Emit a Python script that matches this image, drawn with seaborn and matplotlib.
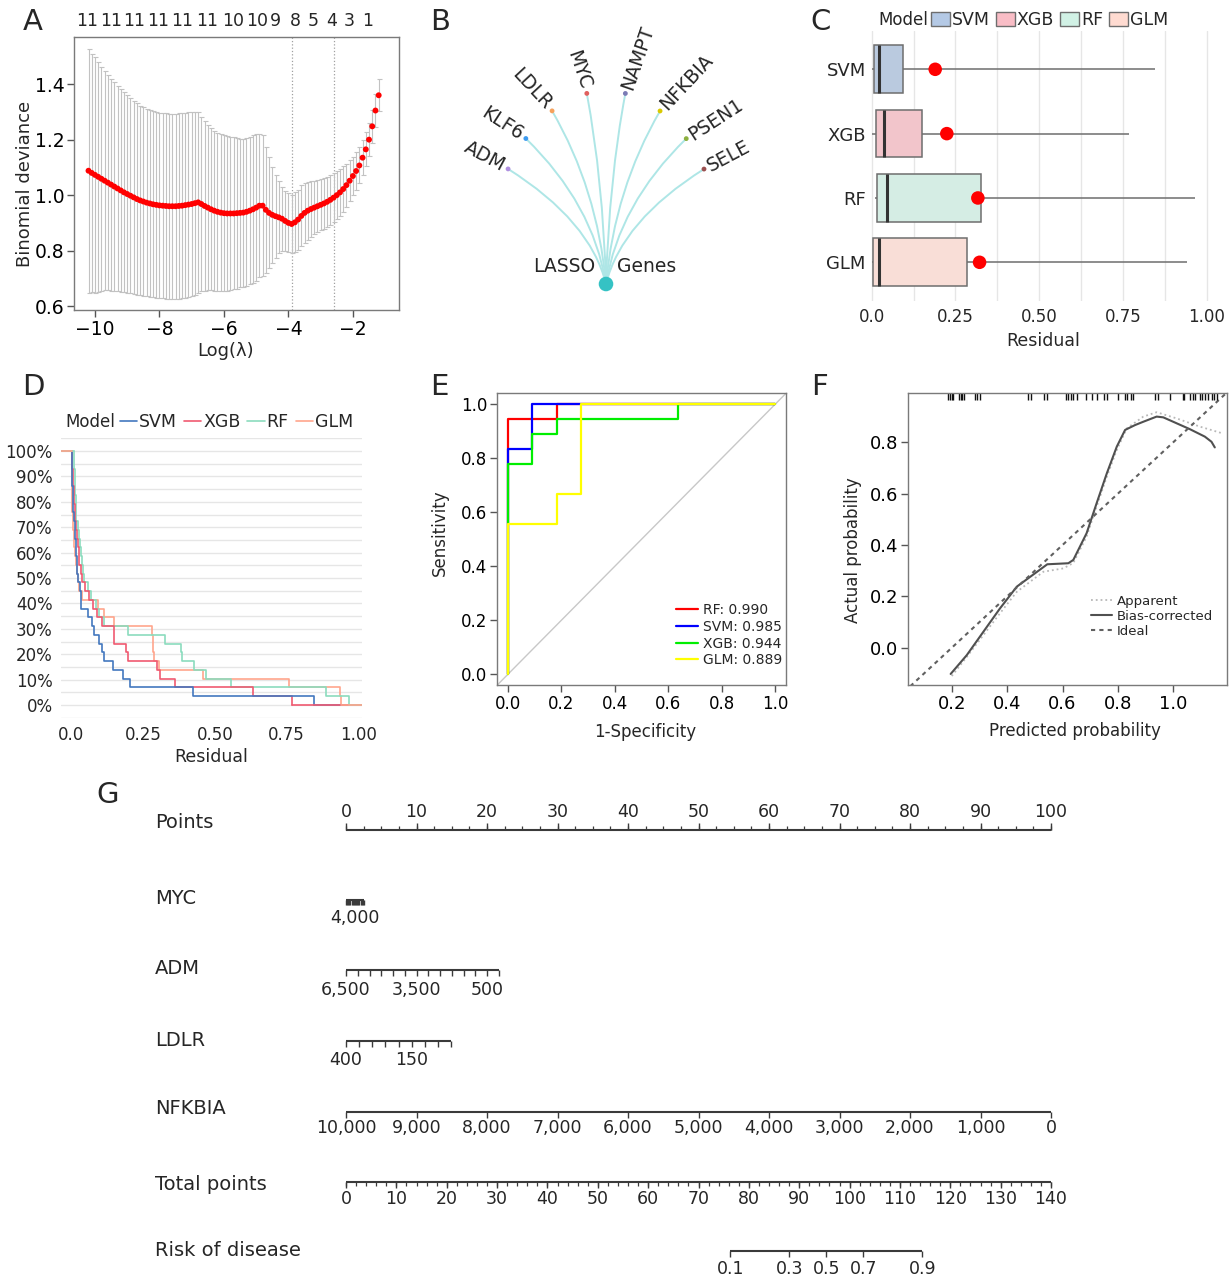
import numpy as np
import pandas as pd
import matplotlib
matplotlib.use("Agg")
import matplotlib.pyplot as plt
import matplotlib.transforms as mtransforms
import matplotlib.ticker as mticker
from matplotlib.path import Path
from matplotlib.patches import PathPatch, Patch
from matplotlib.lines import Line2D
import seaborn as sns

# ======================= DATA =======================
# Panel A: LASSO cross-validation
log_lambda = [-10.2, -10.1, -10.0, -9.9, -9.8, -9.7, -9.6, -9.5, -9.4, -9.3, -9.2, -9.1, -9.0,
              -8.9, -8.8, -8.7, -8.6, -8.5, -8.4, -8.3, -8.2, -8.1, -8.0, -7.9, -7.8, -7.7,
              -7.6, -7.5, -7.4, -7.3, -7.2, -7.1, -7.0, -6.9, -6.8, -6.7, -6.6, -6.5, -6.4,
              -6.3, -6.2, -6.1, -6.0, -5.9, -5.8, -5.7, -5.6, -5.5, -5.4, -5.3, -5.2, -5.1,
              -5.0, -4.9, -4.8, -4.7, -4.6, -4.5, -4.4, -4.3, -4.2, -4.1, -4.0, -3.9, -3.8,
              -3.7, -3.6, -3.5, -3.4, -3.3, -3.2, -3.1, -3.0, -2.9, -2.8, -2.7, -2.6, -2.5,
              -2.4, -2.3, -2.2, -2.1, -2.0, -1.9, -1.8, -1.7, -1.6, -1.5, -1.4, -1.3, -1.2]
cv_mean = [1.088, 1.080, 1.073, 1.066, 1.059, 1.052, 1.045, 1.038, 1.031, 1.024, 1.017, 1.010, 1.004,
           0.998, 0.992, 0.986, 0.981, 0.977, 0.973, 0.970, 0.967, 0.965, 0.963, 0.962, 0.961, 0.960,
           0.960, 0.960, 0.961, 0.962, 0.964, 0.966, 0.968, 0.971, 0.974, 0.968, 0.961, 0.955, 0.949,
           0.944, 0.940, 0.937, 0.935, 0.934, 0.934, 0.934, 0.935, 0.936, 0.937, 0.940, 0.944, 0.949,
           0.955, 0.962, 0.962, 0.947, 0.936, 0.929, 0.924, 0.920, 0.915, 0.907, 0.900, 0.896, 0.902,
           0.912, 0.925, 0.936, 0.944, 0.950, 0.955, 0.960, 0.965, 0.970, 0.976, 0.983, 0.991, 1.000,
           1.010, 1.022, 1.036, 1.052, 1.069, 1.087, 1.107, 1.135, 1.165, 1.200, 1.248, 1.305, 1.360]
cv_se = [0.440, 0.430, 0.424, 0.414, 0.404, 0.395, 0.388, 0.382, 0.376, 0.370, 0.365, 0.360, 0.356,
         0.352, 0.348, 0.345, 0.342, 0.339, 0.337, 0.336, 0.335, 0.334, 0.334, 0.334, 0.334, 0.334,
         0.334, 0.334, 0.334, 0.333, 0.333, 0.333, 0.332, 0.330, 0.326, 0.315, 0.305, 0.297, 0.292,
         0.288, 0.285, 0.282, 0.281, 0.278, 0.276, 0.274, 0.272, 0.268, 0.267, 0.266, 0.266, 0.266,
         0.266, 0.258, 0.254, 0.227, 0.200, 0.173, 0.150, 0.130, 0.115, 0.108, 0.106, 0.106, 0.108,
         0.108, 0.110, 0.108, 0.105, 0.100, 0.096, 0.093, 0.092, 0.091, 0.090, 0.090, 0.089, 0.087,
         0.085, 0.082, 0.078, 0.074, 0.070, 0.067, 0.065, 0.063, 0.061, 0.060, 0.059, 0.058, 0.057]
nzero_pos = [-10.25, -9.5, -8.79, -8.05, -7.3, -6.53, -5.72, -4.98, -4.39, -3.77, -3.24, -2.65, -2.12, -1.53]
nzero_lab = ["11", "11", "11", "11", "11", "11", "10", "10", "9", "8", "5", "4", "3", "1"]
lambda_min_log = -3.88
lambda_1se_log = -2.59

# Panel B: LASSO genes
genes = ["ADM", "KLF6", "LDLR", "MYC", "NAMPT", "NFKBIA", "PSEN1", "SELE"]
gene_colors = ["#b08fe0", "#3d9bf0", "#f5a25d", "#e0605e", "#7b7bb5", "#d9c900", "#8db040", "#9b5050"]

# Panels C/D: absolute residuals per model
models = ["SVM", "XGB", "RF", "GLM"]
svm_res = [0.846, 0.422, 0.204, 0.181, 0.146, 0.115, 0.106, 0.095, 0.079, 0.071, 0.059, 0.035, 0.033,
           0.030, 0.022, 0.020, 0.018, 0.016, 0.015, 0.014, 0.012, 0.008, 0.007, 0.006, 0.005, 0.004,
           0.003, 0.002, 0.001]
xgb_res = [0.767, 0.634, 0.361, 0.309, 0.297, 0.196, 0.190, 0.150, 0.147, 0.106, 0.090, 0.075, 0.060,
           0.048, 0.037, 0.032, 0.028, 0.025, 0.022, 0.019, 0.016, 0.013, 0.012, 0.010, 0.008, 0.006,
           0.005, 0.003, 0.002]
rf_res = [0.966, 0.886, 0.555, 0.468, 0.427, 0.386, 0.382, 0.325, 0.198, 0.112, 0.095, 0.085, 0.070,
          0.058, 0.045, 0.042, 0.038, 0.034, 0.030, 0.027, 0.024, 0.017, 0.016, 0.015, 0.014, 0.013,
          0.012, 0.011, 0.010]
glm_res = [0.940, 0.936, 0.758, 0.457, 0.306, 0.287, 0.285, 0.284, 0.282, 0.150, 0.115, 0.094, 0.036,
           0.028, 0.022, 0.018, 0.015, 0.013, 0.011, 0.009, 0.007, 0.005, 0.004, 0.004, 0.003, 0.003,
           0.002, 0.002, 0.001]
model_colors = ["#4378bf", "#f05a71", "#8bdcbe", "#ffa58c"]
model_fill = ["#b4c9e5", "#f9bdc6", "#d1f1e5", "#ffdbd1"]

# Panel E: ROC curves
roc_names = ["RF", "SVM", "XGB", "GLM"]
roc_auc = [0.990, 0.985, 0.944, 0.889]
roc_colors = ["#ff0000", "#0000ff", "#00ee00", "#ffff00"]
rf_fpr = [0, 0, 0.182, 0.182, 1.0]
rf_tpr = [0, 0.944, 0.944, 1.0, 1.0]
svm_fpr = [0, 0, 0.091, 0.091, 1.0]
svm_tpr = [0, 0.833, 0.833, 1.0, 1.0]
xgb_fpr = [0, 0, 0.091, 0.091, 0.182, 0.182, 0.636, 0.636, 1.0]
xgb_tpr = [0, 0.778, 0.778, 0.889, 0.889, 0.944, 0.944, 1.0, 1.0]
glm_fpr = [0, 0, 0.182, 0.182, 0.273, 0.273, 1.0]
glm_tpr = [0, 0.556, 0.556, 0.667, 0.667, 1.0, 1.0]

# Panel F: calibration
apparent_x = [0.200, 0.254, 0.314, 0.374, 0.435, 0.531, 0.603, 0.639, 0.687, 0.723, 0.760, 0.796,
              0.832, 0.892, 0.940, 1.012, 1.096, 1.180]
apparent_y = [-0.110, -0.036, 0.049, 0.134, 0.218, 0.296, 0.309, 0.330, 0.433, 0.549, 0.666, 0.770,
              0.854, 0.900, 0.917, 0.893, 0.861, 0.834]
bias_x = [0.196, 0.254, 0.314, 0.374, 0.435, 0.545, 0.621, 0.639, 0.687, 0.723, 0.760, 0.796, 0.826,
          0.862, 0.892, 0.940, 0.964, 1.012, 1.060, 1.114, 1.138, 1.150]
bias_y = [-0.102, -0.029, 0.062, 0.153, 0.238, 0.325, 0.329, 0.342, 0.446, 0.562, 0.679, 0.783, 0.848,
          0.867, 0.880, 0.900, 0.897, 0.874, 0.851, 0.822, 0.802, 0.780]
ideal_x = [0.05, 1.19]
ideal_y = [-0.15, 0.99]
rug_x = [0.188, 0.194, 0.200, 0.206, 0.227, 0.232, 0.238, 0.244, 0.284, 0.292, 0.302, 0.477, 0.486,
         0.533, 0.543, 0.612, 0.621, 0.630, 0.639, 0.651, 0.684, 0.705, 0.723, 0.750, 0.760, 0.801,
         0.826, 0.834, 0.846, 0.856, 0.934, 0.946, 0.988, 1.034, 1.040, 1.060, 1.070, 1.078, 1.096,
         1.105, 1.114, 1.126, 1.139, 1.148, 1.157]

# Panel G: nomogram
points_ticks = [0, 10, 20, 30, 40, 50, 60, 70, 80, 90, 100]
myc_ticks = [8000, 7500, 7000, 6500, 6000, 5500, 5000, 4500, 4000, 3500, 3000, 2500, 2000, 1500, 1000, 500, 0]
myc_labels = [4000]
myc_max_pts = 2.55
adm_ticks = [6500, 6000, 5500, 5000, 4500, 4000, 3500, 3000, 2500, 2000, 1500, 1000, 500, 0]
adm_labels = [6500, 3500, 500]
adm_max_pts = 21.7
ldlr_ticks = [400, 350, 300, 250, 200, 150, 100, 50, 0]
ldlr_labels = [400, 150]
ldlr_max_pts = 14.9
nfkbia_ticks = [10000, 9000, 8000, 7000, 6000, 5000, 4000, 3000, 2000, 1000, 0]
nfkbia_max_pts = 100.0
total_ticks = [0, 10, 20, 30, 40, 50, 60, 70, 80, 90, 100, 110, 120, 130, 140]
total_max = 140.0
risk_ticks = [0.1, 0.3, 0.5, 0.7, 0.9]
risk_intercept = -11.0
risk_slope = 0.1153

# ======================= FIGURE =======================
W, H = 1229, 1280
sns.set_theme(style="white")
plt.rcParams['font.family'] = ['DejaVu Sans']
plt.rcParams['axes.unicode_minus'] = True
fig = plt.figure(figsize=(W / 100, H / 100), dpi=100)
PXT = mtransforms.Affine2D().scale(1.0 / W, -1.0 / H).translate(0, 1) + fig.transFigure


def px_axes(l, t, r, b):
    return fig.add_axes([l / W, 1 - b / H, (r - l) / W, (b - t) / H])


def ftext(x, y, s, **kw):
    return fig.text(x, y, s, transform=PXT, **kw)


def r_style(ax, labelsize=12.5):
    for s in ax.spines.values():
        s.set_visible(True)
        s.set_color('#7a7a7a')
        s.set_linewidth(1.0)
    ax.tick_params(direction='out', length=5, width=1, color='#555555', labelcolor='black',
                   labelsize=labelsize, pad=2, bottom=True, left=True, top=False, right=False)
    ax.grid(False)


def set_labels(ax, xlabel=None, xpos=None, ylabel=None, ypos=None, size=12.5):
    if xlabel is not None:
        ax.set_xlabel(xlabel, fontsize=size, va='center', ha='center')
        ax.xaxis.set_label_coords(xpos[0], xpos[1], transform=PXT)
    else:
        ax.set_xlabel('')
    if ylabel is not None:
        ax.set_ylabel(ylabel, fontsize=size, va='center', ha='center')
        ax.yaxis.set_label_coords(ypos[0], ypos[1], transform=PXT)
    else:
        ax.set_ylabel('')


# panel letters
for letter, (x, y) in zip("ABCDEFG", [(33, 22), (440, 22), (821, 22), (33, 387), (439, 387), (820, 387), (108, 795)]):
    ftext(x, y, letter, fontsize=21, ha='center', va='center')

# ---------------- Panel A ----------------
axA = px_axes(74, 37, 399, 310)
axA.errorbar(log_lambda, cv_mean, yerr=cv_se, fmt='none', ecolor='#c2c2c2', elinewidth=0.8,
             capsize=1.8, capthick=0.8, zorder=1)
sns.scatterplot(x=log_lambda, y=cv_mean, color='#ff0000', s=18, edgecolor='none', ax=axA, zorder=3)
axA.axvline(lambda_min_log, color='#a0a0a0', ls=':', lw=0.9, zorder=0)
axA.axvline(lambda_1se_log, color='#a0a0a0', ls=':', lw=0.9, zorder=0)
axA.set_xlim(-10.65, -0.57)
axA.set_ylim(0.586, 1.57)
axA.set_xticks([-10, -8, -6, -4, -2])
axA.set_yticks([0.6, 0.8, 1.0, 1.2, 1.4])
axA.yaxis.set_major_formatter(mticker.FormatStrFormatter('%.1f'))
r_style(axA, labelsize=13.5)
set_labels(axA, "Log(\u03bb)", (226, 351), "Binomial deviance", (25, 184), size=13)
axA2 = axA.twiny()
axA2.set_xlim(axA.get_xlim())
axA2.set_xticks(nzero_pos)
axA2.set_xticklabels(nzero_lab)
axA2.tick_params(axis='x', length=0, pad=5, labelsize=12.5)
for s in axA2.spines.values():
    s.set_visible(False)
axA2.grid(False)

# ---------------- Panel B ----------------
axB = px_axes(410, 0, 810, 310)
axB.set_xlim(410, 810)
axB.set_ylim(310, 0)
axB.axis('off')
root = (606.0, 284.0)
ang = np.deg2rad(130.4 - 11.55 * np.arange(len(genes)))
ea, eb = 122.0, 193.0
rad = 1.0 / np.sqrt(np.cos(ang) ** 2 / ea ** 2 + np.sin(ang) ** 2 / eb ** 2)
lx = root[0] + rad * np.cos(ang)
ly = root[1] - rad * np.sin(ang)
for i in range(len(genes)):
    dx, dy = lx[i] - root[0], ly[i] - root[1]
    ctrl = (root[0] + 0.16 * dx, root[1] + 0.55 * dy)
    p = Path([root, ctrl, (lx[i], ly[i])], [Path.MOVETO, Path.CURVE3, Path.CURVE3])
    axB.add_patch(PathPatch(p, fc='none', ec='#aee6e6', lw=1.4, zorder=1))
sns.scatterplot(x=lx, y=ly, hue=genes, palette=gene_colors, s=12, edgecolor='none', legend=False, ax=axB, zorder=3)
sns.scatterplot(x=[root[0]], y=[root[1]], color='#35c2c4', s=110, edgecolor='none', ax=axB, zorder=4)
rots = [-28, -33, -47, -71, 71, 47, 33, 28]
gap = 5.0
for i, g in enumerate(genes):
    rr = np.deg2rad(rots[i])
    if i < 4:
        ax_, ay_ = lx[i] - gap * np.cos(rr), ly[i] + gap * np.sin(rr)
        ha = 'right'
    else:
        ax_, ay_ = lx[i] + gap * np.cos(rr), ly[i] - gap * np.sin(rr)
        ha = 'left'
    axB.text(ax_, ay_, g, rotation=rots[i], rotation_mode='anchor', ha=ha, va='center', fontsize=13.5)
axB.text(595, 267, "LASSO", ha='right', va='center', fontsize=13.5)
axB.text(617, 266, "Genes", ha='left', va='center', fontsize=13.5)

# ---------------- Panel C ----------------
dfR = pd.DataFrame({
    "model": np.repeat(models, [len(svm_res), len(xgb_res), len(rf_res), len(glm_res)]),
    "residual": svm_res + xgb_res + rf_res + glm_res,
})
axC = px_axes(870, 30.7, 1213, 300.9)
sns.boxplot(data=dfR, x="residual", y="model", hue="model", order=models, hue_order=models,
            palette=dict(zip(models, model_fill)), width=0.74, whis=(0, 100), showcaps=False,
            showfliers=False, linecolor='#6e6e6e', linewidth=1.1,
            medianprops=dict(color='#333333', linewidth=2.2), legend=False, ax=axC)
rmse = dfR.groupby("model")["residual"].apply(lambda r: np.sqrt(np.mean(np.square(r)))).reindex(models)
sns.scatterplot(x=rmse.values, y=np.arange(len(models)), color='#ff0000', s=95, edgecolor='none', ax=axC, zorder=5)
axC.set_xlim(-0.005, 1.019)
axC.set_ylim(3.6, -0.6)
axC.set_xticks([0, 0.25, 0.5, 0.75, 1.0])
axC.set_xticklabels(["0.0", "0.25", "0.50", "0.75", "1.00"])
axC.xaxis.set_minor_locator(mticker.MultipleLocator(0.125))
axC.set_yticks(range(len(models)))
axC.set_yticklabels(models)
axC.grid(axis='x', which='both', color='#e6e6e6', lw=1.0)
axC.grid(axis='y', visible=False)
axC.set_axisbelow(True)
for s in axC.spines.values():
    s.set_visible(False)
axC.tick_params(axis='y', length=0, labelsize=13, pad=3)
axC.tick_params(axis='x', which='both', length=0, labelsize=12, pad=5)
set_labels(axC, "Residual", (1043, 341), None, None, size=12.5)
ftext(878, 20, "Model", ha='left', va='center', fontsize=12)
handlesC = [Patch(facecolor=c, edgecolor='#6e6e6e', linewidth=1.0) for c in model_fill]
axC.legend(handlesC, models, ncol=4, loc='center left', bbox_to_anchor=(931, 20), bbox_transform=PXT,
           frameon=False, fontsize=12.5, handlelength=1.1, handleheight=0.8, handletextpad=0.1,
           columnspacing=0.35, borderpad=0, borderaxespad=0)

# ---------------- Panel D ----------------
axD = px_axes(61, 438.3, 361.7, 717.7)
sns.ecdfplot(data=dfR, x="residual", hue="model", hue_order=models, palette=dict(zip(models, model_colors)),
             complementary=True, legend=False, linewidth=1.2, ax=axD)
xlD = (-0.036, 1.011)
for m, c in zip(models, model_colors):
    vals = dfR.loc[dfR.model == m, "residual"]
    axD.plot([xlD[0], vals.min()], [1, 1], color=c, lw=1.2)
    axD.plot([vals.max(), xlD[1]], [0, 0], color=c, lw=1.2)
axD.set_xlim(*xlD)
axD.set_ylim(-0.05, 1.05)
axD.set_xticks([0, 0.25, 0.5, 0.75, 1.0])
axD.set_xticklabels(["0.0", "0.25", "0.50", "0.75", "1.00"])
axD.yaxis.set_major_locator(mticker.MultipleLocator(0.1))
axD.yaxis.set_minor_locator(mticker.MultipleLocator(0.05))
axD.yaxis.set_major_formatter(mticker.PercentFormatter(xmax=1, decimals=0))
axD.grid(axis='y', which='both', color='#e6e6e6', lw=1.0)
axD.grid(axis='x', visible=False)
axD.set_axisbelow(True)
for s in axD.spines.values():
    s.set_visible(False)
axD.tick_params(axis='both', which='both', length=0, labelsize=12)
axD.tick_params(axis='y', pad=6)
axD.tick_params(axis='x', pad=6)
set_labels(axD, "Residual", (211, 757), None, None, size=12.5)
ftext(65, 422, "Model", ha='left', va='center', fontsize=12)
handlesD = [Line2D([], [], color=c, lw=1.2) for c in model_colors]
axD.legend(handlesD, models, ncol=4, loc='center left', bbox_to_anchor=(120, 422), bbox_transform=PXT,
           frameon=False, fontsize=12.5, handlelength=1.0, handletextpad=0.1,
           columnspacing=0.4, borderpad=0, borderaxespad=0)

# ---------------- Panel E ----------------
axE = px_axes(497.3, 393.3, 786, 685)
axE.axline((0, 0), (1, 1), color='#c8c8c8', lw=1.0, zorder=0)
for nm, fpr, tpr, col, auc in zip(roc_names, [rf_fpr, svm_fpr, xgb_fpr, glm_fpr],
                                  [rf_tpr, svm_tpr, xgb_tpr, glm_tpr], roc_colors, roc_auc):
    sns.lineplot(x=fpr, y=tpr, sort=False, estimator=None, color=col, lw=1.6, ax=axE,
                 label=f"{nm}: {auc:.3f}")
axE.set_xlim(-0.04, 1.04)
axE.set_ylim(-0.04, 1.04)
axE.set_xticks([0, 0.2, 0.4, 0.6, 0.8, 1.0])
axE.set_yticks([0, 0.2, 0.4, 0.6, 0.8, 1.0])
axE.xaxis.set_major_formatter(mticker.FormatStrFormatter('%.1f'))
axE.yaxis.set_major_formatter(mticker.FormatStrFormatter('%.1f'))
r_style(axE, labelsize=12)
set_labels(axE, "1-Specificity", (645, 732), "Sensitivity", (440, 533), size=12)
axE.legend(loc='upper left', bbox_to_anchor=(676, 603), bbox_transform=PXT, frameon=False, fontsize=10,
           handlelength=1.6, handletextpad=0.35, labelspacing=0.2, borderpad=0, borderaxespad=0)

# ---------------- Panel F ----------------
axF = px_axes(908.3, 392.7, 1226.7, 685)
sns.lineplot(x=apparent_x, y=apparent_y, sort=False, estimator=None, color='#b8b8b8', lw=1.3,
             linestyle=':', ax=axF, label='Apparent')
sns.lineplot(x=bias_x, y=bias_y, sort=False, estimator=None, color='#505050', lw=1.5, ax=axF,
             label='Bias-corrected')
sns.lineplot(x=ideal_x, y=ideal_y, sort=False, estimator=None, color='#606060', lw=1.5,
             linestyle=(0, (2, 2)), ax=axF, label='Ideal')
blend = mtransforms.blended_transform_factory(axF.transData, axF.transAxes)
axF.vlines(rug_x, 0.976, 1.0, transform=blend, color='#111111', lw=1.0)
axF.set_xlim(0.043, 1.193)
axF.set_ylim(-0.145, 0.993)
axF.set_xticks([0.2, 0.4, 0.6, 0.8, 1.0])
axF.set_yticks([0.0, 0.2, 0.4, 0.6, 0.8])
axF.xaxis.set_major_formatter(mticker.FormatStrFormatter('%.1f'))
axF.yaxis.set_major_formatter(mticker.FormatStrFormatter('%.1f'))
r_style(axF, labelsize=13)
set_labels(axF, "Predicted probability", (1075, 731), "Actual probability", (853, 550), size=12)
axF.legend(loc='upper left', bbox_to_anchor=(1091, 595), bbox_transform=PXT, frameon=False, fontsize=9.5,
           handlelength=1.6, handletextpad=0.35, labelspacing=0.15, borderpad=0, borderaxespad=0)

# ---------------- Panel G (nomogram) ----------------
axG = px_axes(100, 780, 1229, 1280)
PX0, PPX = 346.0, 7.05
axG.set_xlim((100 - PX0) / PPX, (1229 - PX0) / PPX)
axG.set_ylim(1280, 780)
axG.axis('off')
LC = '#3a3a3a'
row_lab = [("Points", 822), ("MYC", 899), ("ADM", 969), ("LDLR", 1041), ("NFKBIA", 1109),
           ("Total points", 1185), ("Risk of disease", 1250)]
for txt, y in row_lab:
    axG.text((155 - PX0) / PPX, y, txt, ha='left', va='center', fontsize=14)


def fmt(v):
    return f"{v:,}"


# Points axis (ticks up, labels above)
yP = 830
axG.hlines(yP, 0, 100, color=LC, lw=1.5)
minor_pts = np.arange(0, 100.01, 2.5)
axG.vlines(minor_pts, yP - 4, yP, color=LC, lw=0.9)
axG.vlines(points_ticks, yP - 7, yP, color=LC, lw=1.0)
for v in points_ticks:
    axG.text(v, 812, str(v), ha='center', va='center', fontsize=12.5)


def draw_scale(y, pts, lab_pts, lab_txt, tick_len=6, lab_y=None):
    axG.hlines(y, min(pts), max(pts), color=LC, lw=1.5)
    axG.vlines(pts, y, y + tick_len, color=LC, lw=1.0)
    for p_, t_ in zip(lab_pts, lab_txt):
        axG.text(p_, lab_y, t_, ha='center', va='center', fontsize=12.5)


myc_pts = [(myc_ticks[0] - v) / myc_ticks[0] * myc_max_pts for v in myc_ticks]
draw_scale(900, myc_pts, [(myc_ticks[0] - v) / myc_ticks[0] * myc_max_pts for v in myc_labels],
           [fmt(v) for v in myc_labels], tick_len=5, lab_y=918)
adm_pts = [(adm_ticks[0] - v) / adm_ticks[0] * adm_max_pts for v in adm_ticks]
draw_scale(970, adm_pts, [(adm_ticks[0] - v) / adm_ticks[0] * adm_max_pts for v in adm_labels],
           [fmt(v) for v in adm_labels], lab_y=990)
ldlr_pts = [(ldlr_ticks[0] - v) / ldlr_ticks[0] * ldlr_max_pts for v in ldlr_ticks]
draw_scale(1041, ldlr_pts, [(ldlr_ticks[0] - v) / ldlr_ticks[0] * ldlr_max_pts for v in ldlr_labels],
           [fmt(v) for v in ldlr_labels], lab_y=1060)
nf_pts = [(nfkbia_ticks[0] - v) / nfkbia_ticks[0] * nfkbia_max_pts for v in nfkbia_ticks]
draw_scale(1112, nf_pts, nf_pts, [fmt(v) for v in nfkbia_ticks], lab_y=1128)
# Total points
yT = 1182
tot_pts = [v / total_max * 100 for v in total_ticks]
axG.hlines(yT, 0, 100, color=LC, lw=1.5)
axG.vlines(np.arange(0, total_max + 0.01, 2) / total_max * 100, yT, yT + 4, color=LC, lw=0.9)
axG.vlines(tot_pts, yT, yT + 6, color=LC, lw=1.0)
for v, p_ in zip(total_ticks, tot_pts):
    axG.text(p_, 1199, str(v), ha='center', va='center', fontsize=12.5)
# Risk
risk_tp = [(np.log(p / (1 - p)) - risk_intercept) / risk_slope for p in risk_ticks]
risk_pts = [t / total_max * 100 for t in risk_tp]
draw_scale(1251, risk_pts, risk_pts, [f"{p:.1f}" for p in risk_ticks], lab_y=1269)

fig.savefig("out.png", dpi=100)
